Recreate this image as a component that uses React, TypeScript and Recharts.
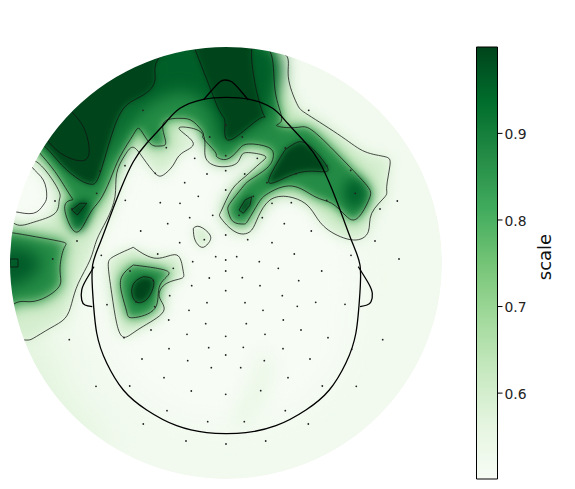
import React from 'react';
import { ComposedChart, Scatter, XAxis, YAxis, BarChart, Bar } from 'recharts';

type P = number[][];
const sensorsLeft: P = [[143,110.3],[166.3,147.7],[209.7,137],[194.7,158.3],[125,165.7],[155.3,173.3],[207,174],[184.7,182.7],[100,171],[96.7,193.3],[198.3,196.3],[55,201],[125.3,200.3],[160.3,202.7],[180,203.3],[212.7,215.3],[72,209],[189.7,217.7],[167.7,223.7],[140.7,231],[204.3,239.7],[77,241],[179.7,242.7],[101.3,255.3],[157.7,254],[215.7,256.7],[52.7,259],[192.7,261.7],[173.3,268.3],[130,271],[209.3,278],[153.3,280.7],[191.7,285.7],[136,301.7],[169.7,295.7],[207,302.7],[107,304.7],[154.7,306.7],[189,310.3],[168.7,320],[205.7,323.7],[151,330],[124,337.7],[187,334.3],[69.3,339.7],[169,348.7],[208.7,347.7],[142,359],[187.7,360.7],[211.3,367.7],[164,377.7],[96,386.3],[129.7,386],[191.3,391],[167,410.7],[143.3,424],[207.7,421.7],[186,441]];
const sensorsMid: P = [[226,125],[225.7,155.7],[225.7,170.7],[225.7,190],[225.7,235],[225.7,260],[225.7,271],[225.7,290.7],[225.7,336.3],[225.7,355],[225.7,394.3],[226,444]];
const sensorsRight: P = [[308.7,110.3],[242.3,137],[285.3,148],[257.3,158.3],[326.7,165.7],[350.7,170.3],[244.7,174],[296,173.7],[267,182.7],[355.3,193.3],[253.3,196.3],[397.3,201],[272,203.3],[291.3,202.7],[326.7,200.3],[380,209],[239,215.3],[262.3,217.7],[284.3,223.7],[311.3,231],[247.7,239.7],[375,241],[272,242.7],[294.3,254],[236.7,256.7],[351,255.3],[259.3,261.7],[399,259],[278.3,268.3],[321.7,271],[242.3,277.7],[298.7,280.7],[260,285.7],[282.3,295.7],[245,302.7],[315.7,302.3],[297.3,306.3],[345,304.3],[263,310.3],[283.3,320],[246.3,323.7],[301,330],[265,334.3],[328,337.7],[382.7,339.7],[243.3,347.3],[283,348.7],[351.7,349.3],[264.3,360.7],[310,359],[240.7,367.7],[288,377.7],[322.3,386],[356.3,386.3],[260.7,390.7],[285.3,410.7],[244.3,421.7],[308.3,424],[265.7,441]];

const level1Main: P = [[0,340],[24,340],[33.3,338.3],[50,328.3],[65,318.3],[71.7,303.3],[78.3,283.3],[90,260],[96.7,240],[106.7,220],[115,196.7],[116.7,173.3],[125,155],[133.3,147.3],[143.3,158.3],[155,173.3],[163.3,175],[173.3,165],[181.7,153.3],[193.3,143.3],[180,130],[186.7,127.3],[203.3,135],[205,155],[213.3,165],[225,166.7],[236.7,163.3],[241.7,155],[250,152.7],[265,156],[260,163.3],[245,176.7],[231.7,190],[221.7,210],[220,216.7],[226.7,225],[235,231.7],[243.3,234],[251.7,230],[258.3,216.7],[270,200],[288.3,196.7],[305,203.3],[315,215],[328.3,230],[353.3,240],[368.3,231.7],[371.7,213.3],[385,196.7],[386.7,186.7],[390,165],[385,156.7],[365,151.7],[341.7,136.7],[308.3,115],[296.7,103.3],[288.3,76.7],[285.7,55],[285,47],[285,20],[0,20],[0,150],[31.7,160],[56.7,186.7],[59.3,200],[55,213.3],[33.3,222.3],[12.7,222.3],[0,222]];
const level1Blob: P = [[133.3,247.3],[156.7,258.3],[176.7,255],[183,270],[181.7,278.3],[166.7,283.3],[159.3,296.7],[163.3,311.7],[140,328.3],[124,337.3],[116.7,323.3],[111.7,293.3],[108.3,266.7],[113.3,256.7]];
const level1Island: P = [[193.3,228.3],[200,226.7],[210,235],[208.3,243.3],[201.7,247.3],[195,240]];
const level2Main: P = [[30,140],[40,153.3],[55,171.7],[70,195],[71.7,200],[65,205],[68.3,221.7],[78.3,231.7],[90,213.3],[100,200],[110,180],[120,156.7],[133.3,134.7],[140,129.3],[150,143.3],[160,146],[165.7,141.7],[163.3,123.3],[180,118.3],[193.3,121.7],[203.3,133.3],[203.3,138.3],[215,151.7],[216.7,156.7],[226.7,159.3],[238.3,150],[248.3,144],[268.3,147.3],[273.3,156.7],[266.7,168.3],[250,180],[241.7,188.3],[230,203.3],[228.3,211.7],[233.3,221.7],[243.3,224],[248.3,220],[258.3,203.3],[268.3,193.3],[291.7,186],[315,196.7],[331.7,203.3],[345,215],[353.3,220],[361.7,213.3],[370,196.7],[365,183.3],[338.3,155],[311.7,130],[298.3,127.3],[283.3,127.3],[276.7,125],[281.7,118.3],[275,90],[270,51.7],[269,45],[269,20],[30,20]];
const level2Blob: P = [[133.3,265],[168.3,271.7],[160,285],[155,308.3],[133.3,317.7],[126.7,311.7],[121.7,293.3],[121.7,276.7]];
const level2Left: P = [[0,232],[11.7,232.7],[58.3,241],[64,248.3],[60,270],[60,285],[46.7,296.7],[30,301.7],[14,304],[0,306]];
const level3Big: P = [[30,140],[45,146.7],[61.7,165],[80,180],[91.7,184.3],[100,173.3],[113.3,130],[126.7,105],[143.3,95],[155,80],[160,56.7],[160,30],[30,30]];
const level3Top: P = [[195,49.3],[208.3,83.3],[220,111.7],[225,123.3],[230,140],[260,118.3],[261.7,110],[251.7,49.3],[251.7,30],[195,30]];
const level3Arm: P = [[285,150],[295,143.3],[308.3,145],[326.7,166],[321.7,171.7],[296.7,173.3],[270,183.3],[275,166.7]];
const level3Tiny: P = [[239,210],[245,200],[251.7,196.7],[250,205],[243.3,213.3]];
const level3Small: P = [[80,203.3],[86.7,203.3],[77.3,215],[71.7,210]];
const level3Blob: P = [[143.3,276.7],[153.3,280],[151.7,291.7],[145,300.7],[136,301.7],[131.7,291.7],[135,281.7]];
const level3Edge: P = [[10,259],[18,259],[18,267],[10,267]];
const level4Big: P = [[71.7,111.7],[83.3,126.7],[89,146.7],[85,160],[66.7,156.7],[45,136.7],[35,105]];
const pocketInner: P = [[5,211],[15,211.7],[33.3,213.3],[43.3,205],[46.7,196.7],[43.3,180],[31.7,166.7],[20,150],[0,150]];

const coreTop: P = [[150,70],[130,95],[112,130],[108,160],[130,122],[160,98],[185,92],[205,104],[216,125],[224,140],[260,122],[272,100],[266,45],[150,40]];
const coreLeft: P = [[0,245],[28,250],[40,262],[30,278],[0,285]];
const coreArm: P = [[345,183],[358,179],[366,195],[356,208],[345,200]];
const coreSpur: P = [[74,205],[90,203],[84,226],[74,226]];
const tintInner: P = [[226,105],[150,130],[105,220],[100,330],[150,400],[226,425],[310,400],[350,330],[350,230],[300,130]];
const tintEdge: P = [[0,325],[50,345],[70,400],[100,450],[0,460]];
const tintStreak: P = [[258,355],[272,360],[268,395],[245,425],[232,418],[248,385]];
const pocketWhite: P = [[0,165],[30,170],[42,185],[42,205],[30,212],[0,212]];

const head: P = [[226.3,433.7],[206.7,432.7],[176.7,425.7],[146.7,410],[123.3,390],[106.7,363],[96.7,333],[92.7,293],[92.6,265],[100,243.3],[110,216.7],[121.7,186.7],[133.3,161.7],[146.7,143.3],[165,123.3],[180,108.3],[203.3,99.3],[226.3,97.3],[249.3,99.3],[272.6,108.3],[287.6,123.3],[306,143.3],[319.3,161.7],[331,186.7],[342.6,216.7],[352.6,243.3],[360,265],[359.9,293],[355.9,333],[345.9,363],[329.3,390],[305.9,410],[275.9,425.7],[245.9,432.7],[226.3,433.7]];
const nose: P = [[204,99.3],[212,90],[220,81.7],[225,80],[231.7,81.7],[240,90],[248.3,100]];
const earLeft: P = [[94,266.7],[86,280],[81.7,290],[81.7,300],[85,305],[92.3,306.7]];
const earRight: P = [[358.3,266.7],[368.3,283],[372.3,293.3],[371,301.7],[367,305],[360,306.7]];
const center: P = [[226,263]];

const ticks = [0.6, 0.7, 0.8, 0.9];
const barValue = [{ name: 'scale', v: 0.9998 }];
const greens = ['#f7fcf5', '#e5f5e0', '#c7e9c0', '#a1d99b', '#74c476', '#41ab5d', '#238b45', '#006d2c', '#00441b'];

const pts = (a: P) => a.map(([x, y]) => ({ x, y }));
const loop = (a: P) => pts(a.concat([a[0]]));
const none = () => <g />;

function fillPoly(key: string, a: P, fill: string, blur: number) {
  return (
    <Scatter key={key} data={loop(a)} className={'b' + blur} shape={none} isAnimationActive={false}
      line={{ fill, stroke: 'none' }} lineType="joint" lineJointType="natural" />
  );
}
function linePoly(key: string, a: P, curve = 'natural', width = 0.75) {
  return (
    <Scatter key={key} data={loop(a)} shape={none} isAnimationActive={false}
      line={{ fill: 'none', stroke: '#111', strokeWidth: width }} lineType="joint" lineJointType={curve as any} />
  );
}
const disc = (r: number, fill: string, stroke: string, sw: number) => (p: any) =>
  <circle cx={p.cx} cy={p.cy} r={r} fill={fill} stroke={stroke} strokeWidth={sw} />;

export default function App() {
  return (
    <div style={{ position: 'absolute', left: 0, top: 0, width: 575, height: 489 }}>
      <style>{`.b2 {filter: blur(2px)} .b3 {filter: blur(3px)} .b4 {filter: blur(4px)} .b6 {filter: blur(6px)} .b7 {filter: blur(7px)} .b12 {filter: blur(12px)}`}</style>
      <div style={{ position: 'absolute', left: 0, top: 0 }}>
        <ComposedChart width={575} height={489} margin={{ top: 0, right: 0, bottom: 0, left: 0 }}>
          <XAxis type="number" dataKey="x" domain={[0, 575]} hide />
          <YAxis type="number" dataKey="y" domain={[0, 489]} reversed hide />
          <Scatter data={pts(center)} shape={disc(216, '#f2faef', 'none', 0)} isAnimationActive={false} />
          {fillPoly('ti', tintInner, '#f7fcf5', 12)}
          {fillPoly('te', tintEdge, '#e2f4dd', 12)}
          {fillPoly('ts', tintStreak, '#ebf7e7', 6)}
          {fillPoly('a1', level1Main, '#d5eecf', 4)}
          {fillPoly('a2', level1Blob, '#d5eecf', 4)}
          {fillPoly('a3', level1Island, '#d5eecf', 3)}
          {fillPoly('pw', pocketWhite, '#f7fcf5', 4)}
          {fillPoly('h1', level2Main, '#74c476', 7)}
          {fillPoly('h2', level2Blob, '#74c476', 7)}
          {fillPoly('h3', level2Left, '#74c476', 7)}
          {fillPoly('b1', level2Main, '#238b45', 3)}
          {fillPoly('b2', level2Blob, '#238b45', 3)}
          {fillPoly('b3', level2Left, '#238b45', 4)}
          {fillPoly('c1', coreTop, '#005f28', 6)}
          {fillPoly('c2', coreLeft, '#005a28', 6)}
          {fillPoly('c3', coreArm, '#00602a', 4)}
          {fillPoly('c4', coreSpur, '#00602a', 3)}
          {fillPoly('d1', level3Big, '#00441b', 2)}
          {fillPoly('d2', level3Top, '#00441b', 2)}
          {fillPoly('d3', level3Arm, '#00441b', 2)}
          {fillPoly('d4', level3Tiny, '#00441b', 2)}
          {fillPoly('d5', level3Small, '#00441b', 2)}
          {fillPoly('d6', level3Blob, '#00441b', 2)}
          {linePoly('l1', level1Main)}
          {linePoly('l2', level1Blob)}
          {linePoly('l3', level1Island)}
          {linePoly('l4', level2Main)}
          {linePoly('l5', level2Blob)}
          {linePoly('l6', level2Left)}
          {linePoly('l7', level3Big)}
          {linePoly('l8', level3Top)}
          {linePoly('l9', level3Arm)}
          {linePoly('l10', level3Tiny, 'linearClosed')}
          {linePoly('l11', level3Small, 'linearClosed')}
          {linePoly('l12', level3Blob)}
          {linePoly('l13', level3Edge, 'linearClosed')}
          {linePoly('l14', level4Big)}
          {linePoly('l15', pocketInner)}
          <Scatter data={pts(center)} shape={disc(316, 'none', '#fff', 200)} isAnimationActive={false} />
          {[sensorsLeft, sensorsMid, sensorsRight].map((s, i) => (
            <Scatter key={'s' + i} data={pts(s)} isAnimationActive={false}
              shape={(p: any) => <circle cx={p.cx} cy={p.cy} r={0.9} fill="#222" />} />
          ))}
          {[head, nose, earLeft, earRight].map((h, i) => (
            <Scatter key={'h' + i} data={pts(h)} shape={none} isAnimationActive={false}
              line={{ fill: 'none', stroke: '#000', strokeWidth: 1.3 }} lineType="joint" lineJointType="natural" />
          ))}
        </ComposedChart>
      </div>
      <div style={{ position: 'absolute', left: 0, top: 0 }}>
        <BarChart width={575} height={489} data={barValue} barCategoryGap={0}
          margin={{ top: 47, right: 0, bottom: 10, left: 476.5 }}>
          <defs>
            <linearGradient id="greensGrad" x1="0" y1="1" x2="0" y2="0">
              {greens.map((c, i) => <stop key={c} offset={i / (greens.length - 1)} stopColor={c} />)}
            </linearGradient>
          </defs>
          <XAxis dataKey="name" hide />
          <YAxis orientation="right" width={77.5} type="number" domain={[0.5008, 0.9998]} ticks={ticks}
            axisLine={false} tickSize={5} tickLine={{ stroke: '#000', strokeWidth: 1 }}
            tickFormatter={(v: number) => v.toFixed(1)}
            tick={{ fontFamily: 'DejaVu Sans', fontSize: 13.9, fill: '#222', dy: 1 }}
            label={{ value: 'scale', angle: -90, position: 'right', dx: -35, dy: -6, style: { fontFamily: 'DejaVu Sans', fontSize: 18, fill: '#111', textAnchor: 'middle' } }} />
          <Bar dataKey="v" fill="url(#greensGrad)" stroke="#000" strokeWidth={1} isAnimationActive={false} />
        </BarChart>
      </div>
    </div>
  );
}
